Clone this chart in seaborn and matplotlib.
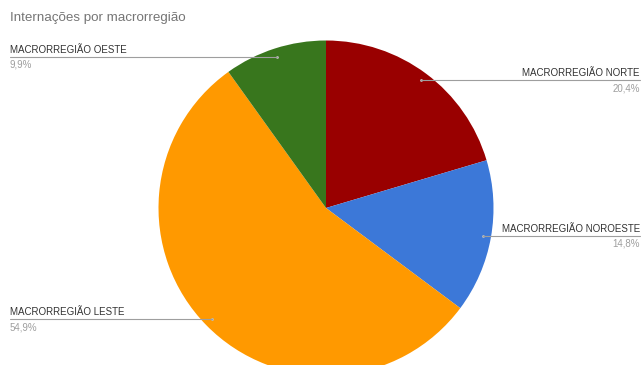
import numpy as np
import matplotlib
matplotlib.use("Agg")
import matplotlib.pyplot as plt
import seaborn as sns

# Data
regions = ["MACRORREGIÃO NORTE", "MACRORREGIÃO NOROESTE", "MACRORREGIÃO LESTE", "MACRORREGIÃO OESTE"]
shares = [20.4, 14.8, 54.9, 9.9]
colors = ["#990000", "#3c78d8", "#ff9900", "#38761d"]
label_side = ["right", "right", "left", "left"]

sns.set_theme(style="white")
plt.rcParams["font.family"] = ["Liberation Sans", "DejaVu Sans"]

W, H = 644, 365
fig = plt.figure(figsize=(W / 100, H / 100), dpi=100)
ax = fig.add_axes([0, 0, 1, 1])

cx, cy, r = 326, H - 208, 167.5
ax.pie(shares, colors=colors, startangle=90, counterclock=False,
       center=(cx, cy), radius=r, frame=True,
       wedgeprops=dict(linewidth=0))
ax.set_xlim(0, W)
ax.set_ylim(0, H)
ax.set_aspect("auto")
ax.axis("off")

ax.text(10, H - 18, "Internações por macrorregião", fontsize=9.6,
        color="#757575", ha="left", va="center")

# Leader lines from each slice's mid-angle to its label
cum = np.cumsum([0] + shares[:-1])
line_col = "#9e9e9e"
for name, val, start, side in zip(regions, shares, cum, label_side):
    mid = (start + val / 2) / 100 * 2 * np.pi
    px = cx + 0.95 * r * np.sin(mid)
    py = cy + 0.95 * r * np.cos(mid)
    ax.plot([px], [py], marker="o", ms=2, color="#bdbdbd", mec="none")
    pct = f"{val:.1f}%".replace(".", ",")
    if side == "right":
        ax.plot([px, 640], [py, py], color=line_col, lw=0.8)
        ax.text(640, py + 2, name, fontsize=7, color="#333333", ha="right", va="bottom")
        ax.text(640, py - 3, pct, fontsize=7, color="#9e9e9e", ha="right", va="top")
    else:
        ax.plot([10, px], [py, py], color=line_col, lw=0.8)
        ax.text(10, py + 2, name, fontsize=7, color="#333333", ha="left", va="bottom")
        ax.text(10, py - 3, pct, fontsize=7, color="#9e9e9e", ha="left", va="top")

fig.savefig("out.png", dpi=100, facecolor="white")
